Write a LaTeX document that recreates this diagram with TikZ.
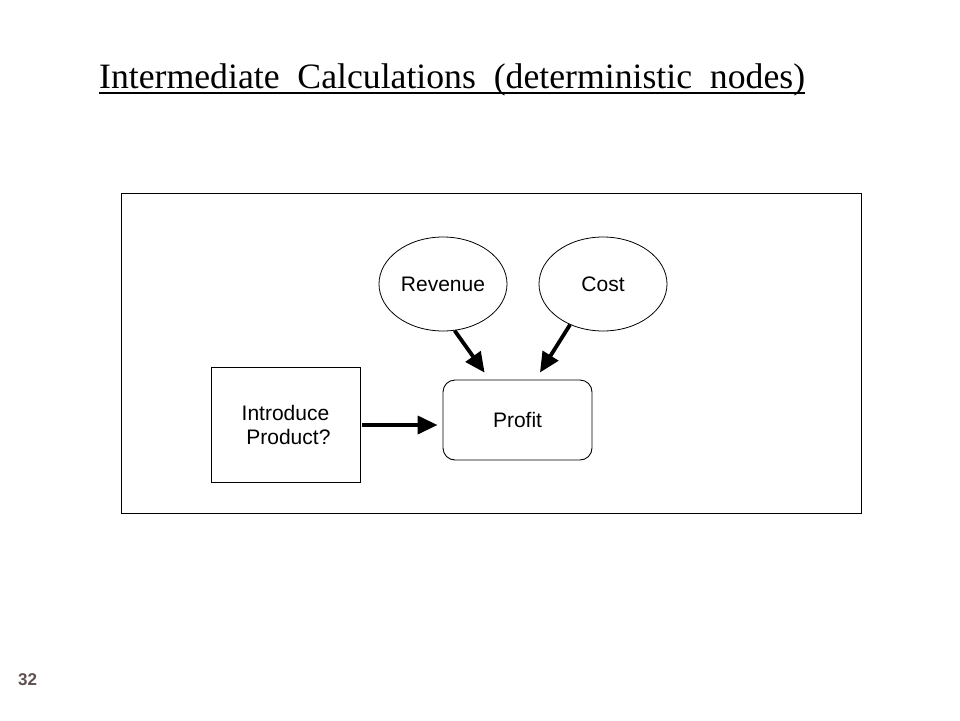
\documentclass[tikz,border=0pt]{standalone}
\usepackage{fontspec}
\setmainfont{Liberation Serif}
\newfontfamily\arialf{Liberation Sans}
\usetikzlibrary{arrows.meta,shapes.geometric,calc}
\definecolor{pagenum}{RGB}{96,80,80}
\begin{document}
\begin{tikzpicture}[x=1pt,y=-1pt,
  lbl/.style={font=\arialf\fontsize{21}{24}\selectfont,align=center,inner sep=0pt},
  oval/.style={ellipse,draw,line width=0.8pt,minimum width=128pt,minimum height=94pt,lbl},
  detbox/.style={draw,line width=0.9pt,rounded corners=12pt,minimum width=149pt,minimum height=80pt,lbl},
  decbox/.style={draw,line width=0.9pt,minimum width=149pt,minimum height=115pt,lbl},
  arr/.style={line width=3.8pt,-{Triangle[length=20pt,width=18pt]}}]
\useasboundingbox (0,0) rectangle (960,720);
\fill[white] (0,0) rectangle (960,720);
% title
\node[anchor=base west,inner sep=0pt,font=\fontsize{35.7}{40}\selectfont] (title) at (99,88)
  {Intermediate\ \ Calculations\ \ (deterministic\ \ nodes)};
\draw[line width=2.2pt] ($(title.base west)+(0,5)$) -- ($(title.base east)+(0,5)$);
% frame
\node[draw,line width=0.8pt,minimum width=740pt,minimum height=320pt,inner sep=0pt] (frame) at (491,353) {};
% nodes
\node[oval] (rev) at (443,284) {Revenue};
\node[oval] (cost) at (603,284) {Cost};
\node[detbox] (prof) at (517.5,420) {Profit};
\node[decbox] (intro) at (285.5,425) {Introduce\\\ Product?};
% arrows
\draw[arr,shorten >=8.5pt] (rev.-76) -- ($(prof.north west)+(47,0)$);
\draw[arr,shorten >=8.3pt] (cost.-129) -- ($(prof.north west)+(93,0)$);
\draw[arr,shorten >=5pt,shorten <=2pt] (intro.east) -- (intro.east -| prof.west);
% page number
\node[anchor=base west,inner sep=0pt,text=pagenum,font=\arialf\bfseries\fontsize{17}{20}\selectfont] (pnum) at (18,685) {32};
\end{tikzpicture}
\end{document}
